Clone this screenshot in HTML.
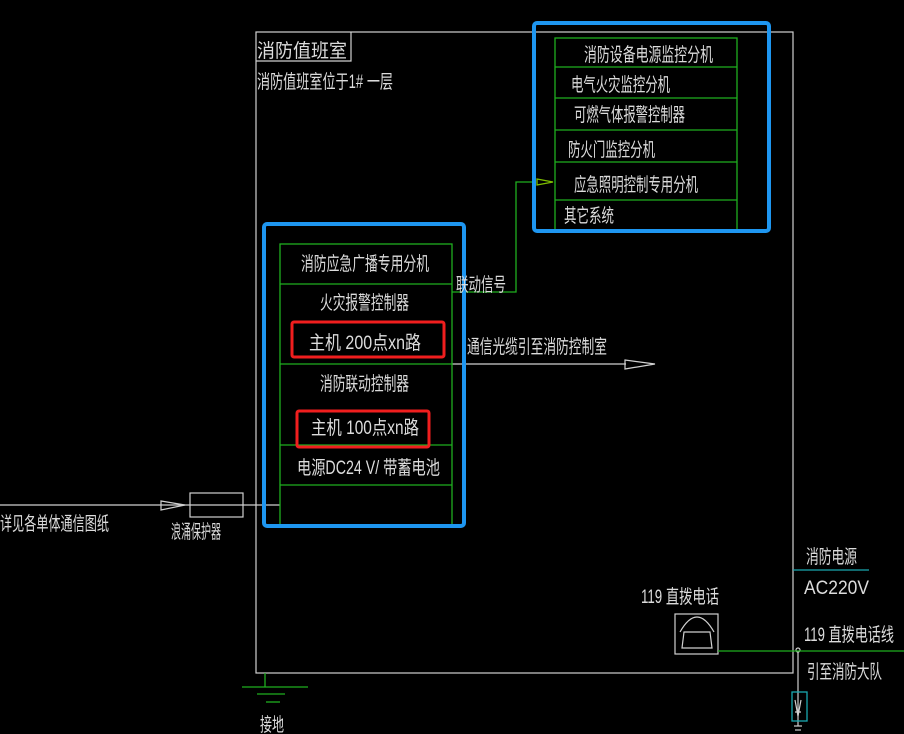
<!DOCTYPE html>
<html><head><meta charset="utf-8"><style>
html,body{margin:0;padding:0;background:#000;width:904px;height:734px;overflow:hidden}
svg text{font-family:"Liberation Sans","Noto Sans CJK SC",sans-serif;fill:#dcdcdc;font-size:19px}
</style></head><body>
<svg width="904" height="734" xmlns="http://www.w3.org/2000/svg">
<g fill="none" stroke="#d0d0d0" stroke-width="1.2">
<rect x="256" y="32" width="537" height="641"/>
<polyline points="256,61 351,61 351,32"/>
<line x1="0" y1="505" x2="280" y2="505"/>
<polygon points="161,501 185,505 161,510"/>
<rect x="190" y="493" width="53" height="24"/>
<line x1="452" y1="364" x2="626" y2="364"/>
<polygon points="625,360 655,364 625,369"/>
<rect x="675" y="614" width="43" height="40"/>
<path d="M682,648 L684,632 L710,632 L712,648 Z M680,632 Q697,602 714,632"/>
<line x1="798" y1="652" x2="798" y2="726"/>
<circle cx="798" cy="650" r="2"/>
<line x1="794" y1="726" x2="802" y2="726"/>
<line x1="795" y1="730" x2="801" y2="730"/>
<path d="M795,700 L798,716 L801,700 M795,712 L801,712"/>
</g>
<g fill="none" stroke="#1fae1f" stroke-width="1.3">
<rect x="555" y="38" width="182" height="193"/>
<line x1="555" y1="67" x2="737" y2="67"/>
<line x1="555" y1="98" x2="737" y2="98"/>
<line x1="555" y1="130" x2="737" y2="130"/>
<line x1="555" y1="162" x2="737" y2="162"/>
<line x1="555" y1="200" x2="737" y2="200"/>
<rect x="280" y="244" width="172" height="281"/>
<line x1="280" y1="284" x2="452" y2="284"/>
<line x1="280" y1="364" x2="452" y2="364"/>
<line x1="280" y1="445" x2="452" y2="445"/>
<line x1="280" y1="485" x2="452" y2="485"/>
<polyline points="452,292 516,292 516,182 535,182"/>
<polygon points="537,179 553,182 537,185" stroke="#7fbf00"/>
<line x1="718" y1="651" x2="904" y2="651"/>
<line x1="265" y1="673" x2="265" y2="687"/>
<line x1="242" y1="687" x2="308" y2="687"/>
<line x1="257" y1="694" x2="285" y2="694"/>
<line x1="266" y1="702" x2="280" y2="702"/>
</g>
<g fill="none" stroke="#1aa8b0" stroke-width="1.3">
<line x1="793" y1="570" x2="869" y2="570"/>
<rect x="792" y="692" width="15" height="29"/>
</g>
<g fill="none" stroke="#1e96f0" stroke-width="4">
<rect x="534" y="23" width="235" height="208" rx="3"/>
<rect x="264" y="224" width="200" height="302" rx="3"/>
</g>
<g fill="none" stroke="#f01e1e" stroke-width="3">
<rect x="292" y="322" width="152" height="35" rx="2"/>
<rect x="297" y="411" width="132" height="36" rx="2"/>
</g>
<text x="257" y="57" textLength="90" lengthAdjust="spacingAndGlyphs">消防值班室</text>
<text x="257" y="88" textLength="136" lengthAdjust="spacingAndGlyphs">消防值班室位于1# 一层</text>
<text x="584" y="61" textLength="129" lengthAdjust="spacingAndGlyphs">消防设备电源监控分机</text>
<text x="571" y="91" textLength="99" lengthAdjust="spacingAndGlyphs">电气火灾监控分机</text>
<text x="574" y="121" textLength="111" lengthAdjust="spacingAndGlyphs">可燃气体报警控制器</text>
<text x="568" y="156" textLength="87" lengthAdjust="spacingAndGlyphs">防火门监控分机</text>
<text x="574" y="191" textLength="124" lengthAdjust="spacingAndGlyphs">应急照明控制专用分机</text>
<text x="564" y="222" textLength="50" lengthAdjust="spacingAndGlyphs">其它系统</text>
<text x="301" y="270" textLength="128" lengthAdjust="spacingAndGlyphs">消防应急广播专用分机</text>
<text x="320" y="309" textLength="89" lengthAdjust="spacingAndGlyphs">火灾报警控制器</text>
<text x="309" y="349" textLength="112" lengthAdjust="spacingAndGlyphs">主机 200点xn路</text>
<text x="320" y="390" textLength="89" lengthAdjust="spacingAndGlyphs">消防联动控制器</text>
<text x="311" y="434" textLength="108" lengthAdjust="spacingAndGlyphs">主机 100点xn路</text>
<text x="297" y="474" textLength="143" lengthAdjust="spacingAndGlyphs">电源DC24 V/ 带蓄电池</text>
<text x="456" y="291" textLength="50" lengthAdjust="spacingAndGlyphs">联动信号</text>
<text x="467" y="353" textLength="140" lengthAdjust="spacingAndGlyphs">通信光缆引至消防控制室</text>
<text x="0" y="530" textLength="109" lengthAdjust="spacingAndGlyphs">详见各单体通信图纸</text>
<text x="171" y="538" font-size="15" textLength="50" lengthAdjust="spacingAndGlyphs">浪涌保护器</text>
<text x="641" y="603" textLength="78" lengthAdjust="spacingAndGlyphs">119 直拨电话</text>
<text x="806" y="563" textLength="51" lengthAdjust="spacingAndGlyphs">消防电源</text>
<text x="804" y="594" textLength="65" lengthAdjust="spacingAndGlyphs">AC220V</text>
<text x="804" y="641" textLength="90" lengthAdjust="spacingAndGlyphs">119 直拨电话线</text>
<text x="807" y="678" textLength="75" lengthAdjust="spacingAndGlyphs">引至消防大队</text>
<text x="260" y="731" textLength="24" lengthAdjust="spacingAndGlyphs">接地</text>
</svg>
</body></html>
